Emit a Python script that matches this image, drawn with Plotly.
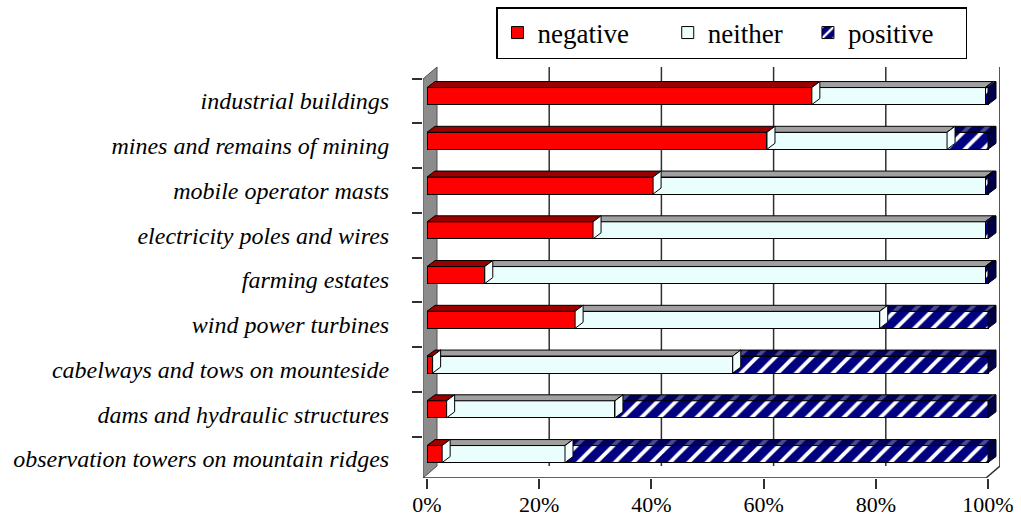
import plotly.graph_objects as go

# ---------------- data ----------------
categories = [
    "industrial buildings",
    "mines and remains of mining",
    "mobile operator masts",
    "electricity poles and wires",
    "farming estates",
    "wind power turbines",
    "cabelways and tows on mounteside",
    "dams and hydraulic structures",
    "observation towers on mountain ridges",
]
negative = [68.6, 60.6, 40.3, 29.6, 10.3, 26.4, 1.0, 3.5, 2.7]
neither = [30.9, 32.1, 59.2, 69.9, 89.2, 54.3, 53.5, 30.0, 21.9]
positive = [0.5, 7.3, 0.5, 0.5, 0.5, 19.3, 45.5, 66.5, 75.4]
legend_labels = ["negative", "neither", "positive"]
tick_vals = [0, 20, 40, 60, 80, 100]
tick_text = ["0%", "20%", "40%", "60%", "80%", "100%"]

# ---------------- geometry / style ----------------
W, H = 1021, 520
M_L, M_R, M_T, M_B = 423, 21, 66, 42
PX_X = 5.61                      # pixels per percent
X_MIN = -4 / PX_X
X_MAX = X_MIN + (W - M_L - M_R) / PX_X
PX_Y = 44.75                     # pixels per category
Y_MIN = -0.425
Y_MAX = Y_MIN + (H - M_T - M_B) / PX_Y
BAR_W = 0.38
BAR_SHIFT = 0.11
BDX, BDY = 8 / PX_X, 6 / PX_Y     # bar depth
WDX, WDY = 14 / PX_X, 12 / PX_Y   # wall depth

RED = "#FF0000"
RED_TOP = "#9A0000"
NEI = "#EAFEFE"
NEI_TOP = "#A0A0A0"
NAVY = "#000080"
NAVY_TOP = "#00005A"
FONT = "Liberation Serif"
PAD = "\u00a0"

n = len(categories)
ypos = [n - 1 - i for i in range(n)]

fig = go.Figure()

# front faces
legend_pad = [PAD * 5, PAD * 3, PAD * 4]
for name, pad, vals, color in [(legend_labels[0], legend_pad[0], negative, RED),
                               (legend_labels[1], legend_pad[1], neither, NEI)]:
    fig.add_trace(go.Bar(
        name=name + pad, y=ypos, x=vals, orientation="h",
        width=BAR_W, offset=-BAR_W / 2 + BAR_SHIFT,
        marker=dict(color=color, line=dict(color="black", width=1)),
    ))
fig.add_trace(go.Bar(
    name=legend_labels[2] + legend_pad[2], y=ypos, x=positive, orientation="h",
    width=BAR_W, offset=-BAR_W / 2 + BAR_SHIFT,
    marker=dict(color=NAVY, line=dict(color="black", width=1),
                pattern=dict(shape="/", fgcolor="white", bgcolor=NAVY,
                             size=13, solidity=0.3, fillmode="replace")),
))

# 3D faces computed from the data
tops = {0: ([], []), 1: ([], []), 2: ([], [])}
slx, sly = [], []
sdx, sdy = [], []
for i in range(n):
    y0 = ypos[i] - BAR_W / 2 + BAR_SHIFT
    y1 = y0 + BAR_W
    b = [0, negative[i], negative[i] + neither[i], negative[i] + neither[i] + positive[i]]
    for k in range(3):
        s, e = b[k], b[k + 1]
        xs, ys = tops[k]
        xs += [s, e, e + BDX, s + BDX, s, None]
        ys += [y1, y1, y1 + BDY, y1 + BDY, y1, None]
    for k in (1, 2):
        if b[k] < b[3] - 1:
            x = b[k]
            slx += [x, x, x + BDX, x + BDX, x, None]
            sly += [y0, y1, y1 + BDY, y0 + BDY, y0, None]
    e = b[3]
    sdx += [e, e, e + BDX, e + BDX, e, None]
    sdy += [y0, y1, y1 + BDY, y0 + BDY, y0, None]

for k, col in [(0, RED_TOP), (1, NEI_TOP)]:
    fig.add_trace(go.Scatter(x=tops[k][0], y=tops[k][1], mode="lines", fill="toself",
                             fillcolor=col, line=dict(color="black", width=1),
                             showlegend=False, hoverinfo="skip"))
fig.add_trace(go.Scatter(x=tops[2][0], y=tops[2][1], mode="lines", fill="toself",
                         fillcolor=NAVY_TOP,
                         fillpattern=dict(shape="/", fgcolor="#9A9AC0", bgcolor=NAVY_TOP,
                                          size=13, solidity=0.3),
                         line=dict(color="black", width=1),
                         showlegend=False, hoverinfo="skip"))
fig.add_trace(go.Scatter(x=slx, y=sly, mode="lines", fill="toself", fillcolor="#F4FFFF",
                         line=dict(color="black", width=1), showlegend=False, hoverinfo="skip"))
fig.add_trace(go.Scatter(x=sdx, y=sdy, mode="lines", fill="toself", fillcolor="#00004A",
                         line=dict(color="black", width=1), showlegend=False, hoverinfo="skip"))

# back-wall gridlines, left wall, floor / right edge
y_floor_back = Y_MIN + WDY
y_wall_top = Y_MAX - 1 / PX_Y
shapes = []
for v in tick_vals[1:-1]:
    gx = v + WDX - 4 / PX_X
    shapes.append(dict(type="path", xref="x", yref="y",
                       path=f"M {gx},{y_floor_back} L {gx},{y_wall_top}",
                       line=dict(color="#303030", width=1.5), layer="between"))
wall_path = (f"M {X_MIN},{Y_MIN} L {X_MIN},{y_wall_top - WDY} "
             f"L {X_MIN + WDX},{y_wall_top} L {X_MIN + WDX},{y_floor_back} Z")
shapes.append(dict(type="path", xref="x", yref="y", path=wall_path,
                   fillcolor="#8C8C8C", line=dict(color="#505050", width=1), layer="between"))
x_front_end = X_MAX - WDX
edge_path = (f"M {X_MIN},{Y_MIN} L {x_front_end},{Y_MIN} "
             f"L {X_MAX - 0.01},{y_floor_back} L {X_MAX - 0.01},{y_wall_top}")
shapes.append(dict(type="path", xref="x", yref="y", path=edge_path,
                   line=dict(color="#303030", width=1.5), layer="above"))

fig.update_layout(
    width=W, height=H,
    margin=dict(l=M_L, r=M_R, t=M_T, b=M_B, autoexpand=False),
    barmode="stack",
    paper_bgcolor="white", plot_bgcolor="white",
    font=dict(family=FONT, color="black"),
    shapes=shapes,
    showlegend=True,
    legend=dict(orientation="h", xref="container", yref="container",
                x=496 / W, y=1 - 7 / H, xanchor="left", yanchor="top",
                bordercolor="black", borderwidth=1.5, bgcolor="white",
                font=dict(family=FONT, size=27), traceorder="normal",
                itemwidth=30),
    xaxis=dict(range=[X_MIN, X_MAX], tickvals=tick_vals, ticktext=tick_text,
               ticks="outside", ticklen=10, tickcolor="#303030", tickwidth=1.5,
               showgrid=False, zeroline=False, showline=False,
               ticklabelstandoff=-3,
               tickfont=dict(family=FONT, size=22)),
    yaxis=dict(range=[Y_MIN, Y_MAX], tickvals=ypos, ticktext=categories,
               ticks="outside", ticklen=10, tickcolor="rgba(0,0,0,0)",
               minor=dict(tickvals=[p + 0.5 for p in ypos], ticks="outside",
                          ticklen=10, tickcolor="#303030", tickwidth=1.5),
               showgrid=False, zeroline=False, showline=False,
               ticklabelstandoff=18,
               tickfont=dict(family=FONT, size=24, style="italic")),
)

fig.write_html("out.html", config={"displayModeBar": False},
               post_script="document.body.style.margin='0';")
